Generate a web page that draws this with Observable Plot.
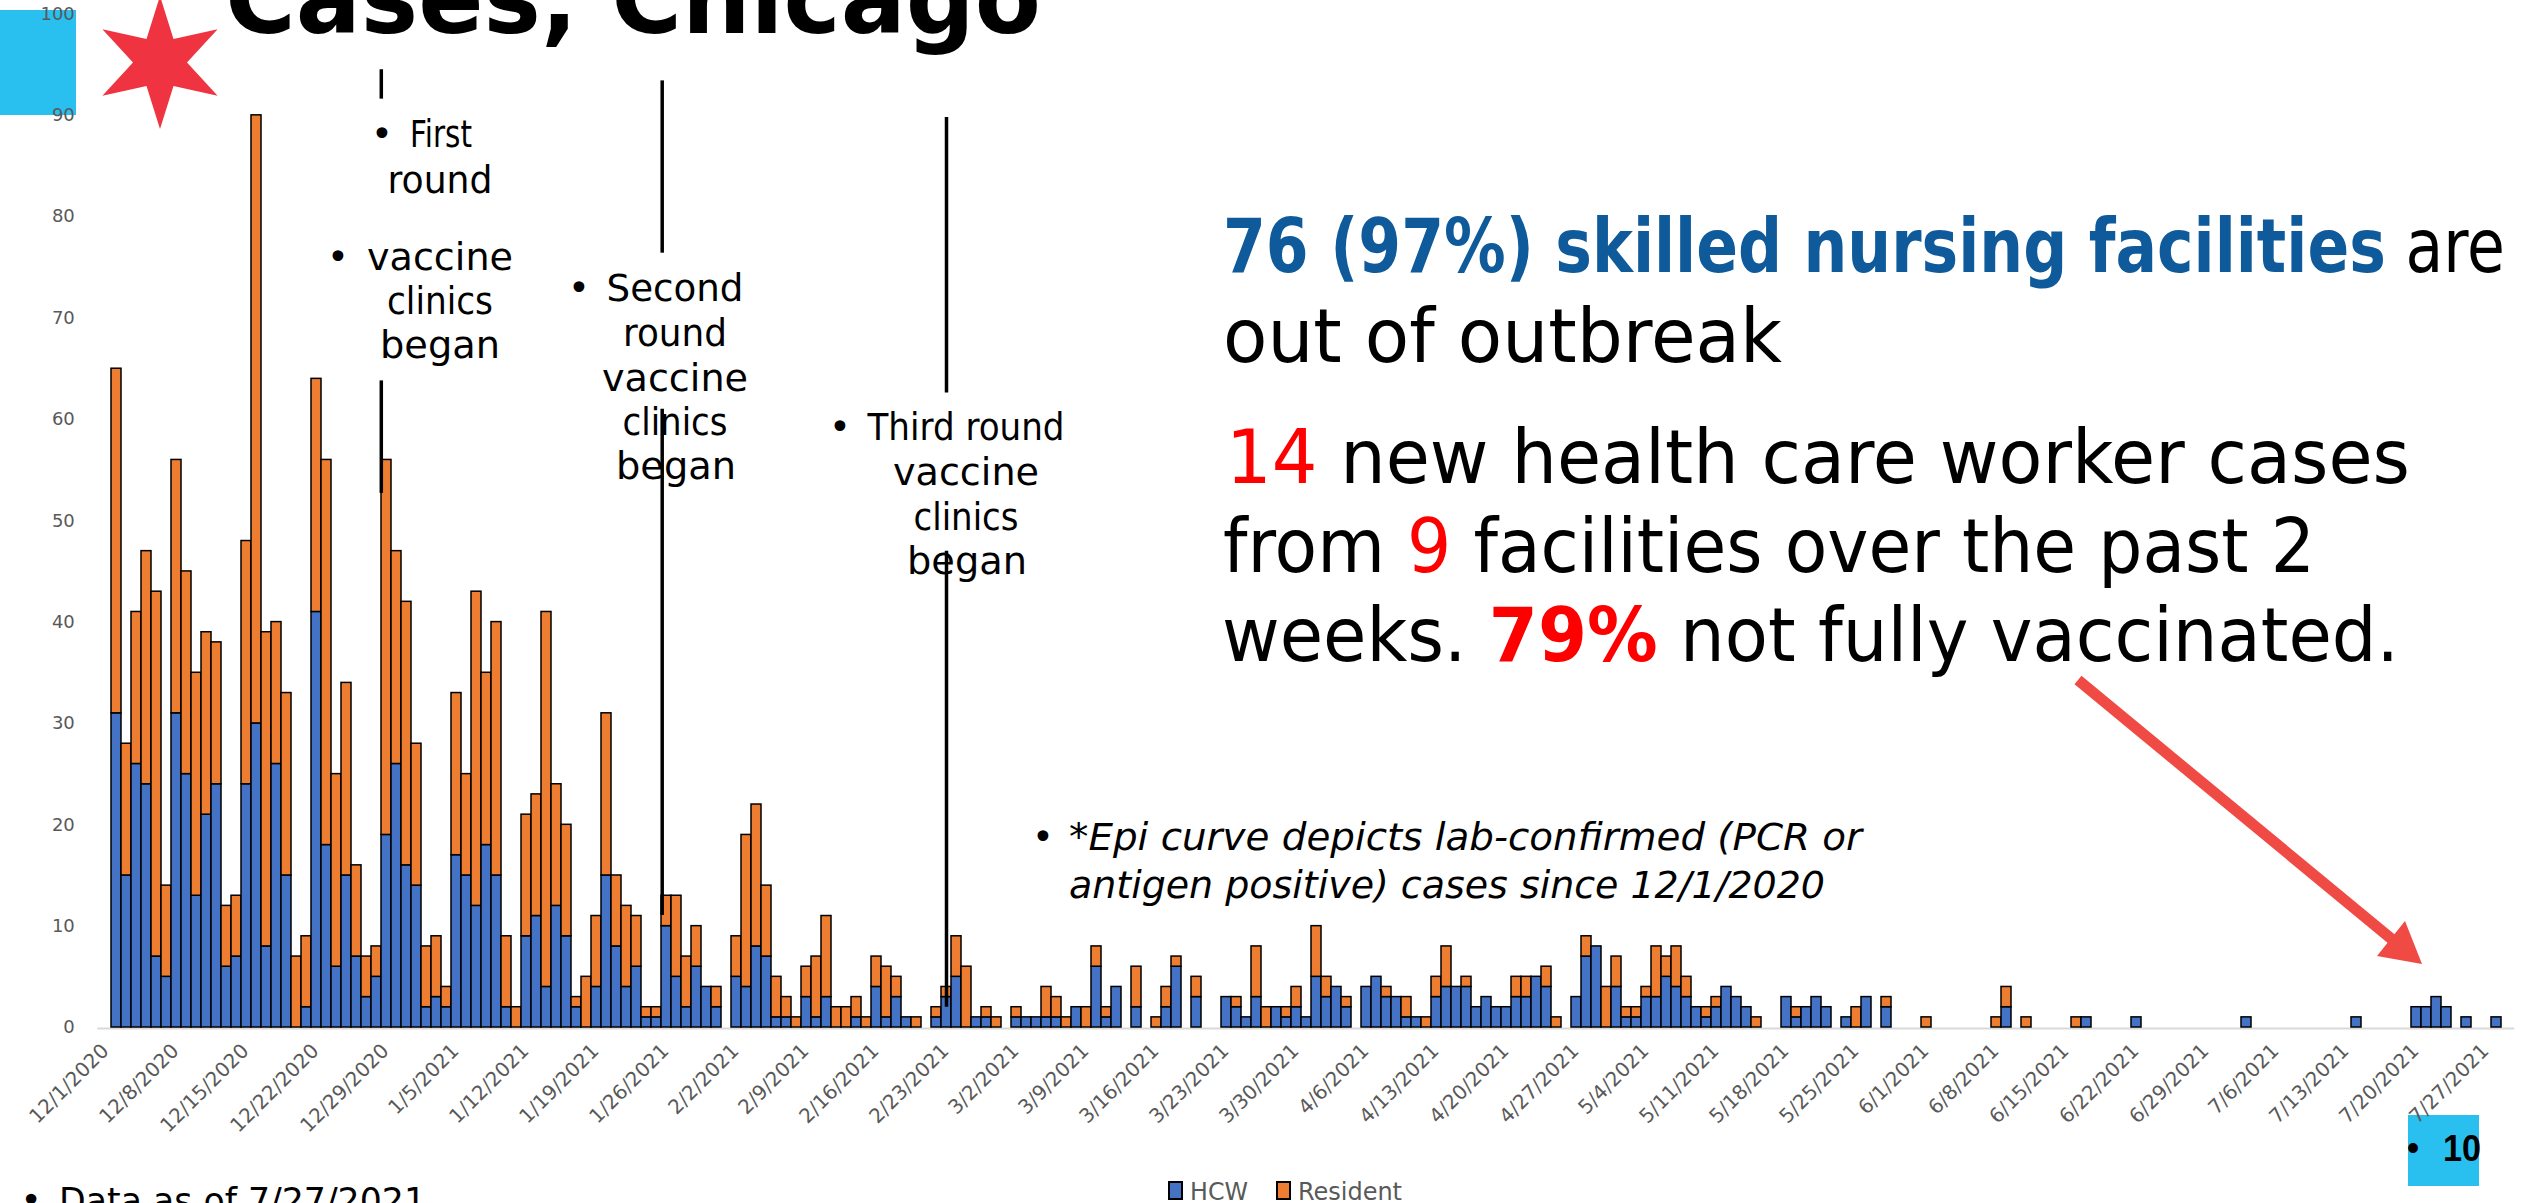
<!DOCTYPE html>
<html>
<head>
<meta charset="utf-8">
<script src="https://cdn.jsdelivr.net/npm/d3@7"></script>
<script src="https://cdn.jsdelivr.net/npm/@observablehq/plot@0.6"></script>
<style>
html,body{margin:0;padding:0;background:#fff;}
#page{position:relative;width:2521px;height:1203px;overflow:hidden;background:#fff;}
.abs{position:absolute;left:0;top:0;}
</style>
</head>
<body>
<div id="page">
  <div style="position:absolute;left:0;top:10px;width:76px;height:105px;background:#29BFEF"></div>
  <div style="position:absolute;left:2408px;top:1115px;width:71px;height:71px;background:#29BFEF"></div>
  <div id="chart" class="abs"></div>
  <svg id="overlay" class="abs" width="2521" height="1203" style="overflow:hidden">
    <!-- Chicago star -->
    <polygon fill="#EF3340" points="160,-4 173.5,39.1 217.6,29.25 187,62.5 217.6,95.75 173.5,85.9 160,129 146.5,85.9 102.4,95.75 133,62.5 102.4,29.25 146.5,39.1"/>
    <!-- Title (cut off at the top, as in the slide) -->
    <text x="225" y="33" font-family="DejaVu Sans" font-weight="bold" font-size="100" fill="#000" textLength="816" lengthAdjust="spacingAndGlyphs">Cases, Chicago</text>

    <!-- Annotations -->
    <g font-family="DejaVu Sans" font-size="37" fill="#000" text-anchor="middle">
      <text x="382" y="147">•</text>
      <text x="441" y="147" textLength="62" lengthAdjust="spacingAndGlyphs">First</text>
      <text x="440" y="193" textLength="105" lengthAdjust="spacingAndGlyphs">round</text>
      <text x="338" y="270">•</text>
      <text x="440" y="270" textLength="146" lengthAdjust="spacingAndGlyphs">vaccine</text>
      <text x="440" y="314" textLength="106" lengthAdjust="spacingAndGlyphs">clinics</text>
      <text x="440" y="358" textLength="120" lengthAdjust="spacingAndGlyphs">began</text>

      <text x="579" y="301">•</text>
      <text x="675" y="301" textLength="137" lengthAdjust="spacingAndGlyphs">Second</text>
      <text x="675" y="346" textLength="104" lengthAdjust="spacingAndGlyphs">round</text>
      <text x="675" y="391" textLength="146" lengthAdjust="spacingAndGlyphs">vaccine</text>
      <text x="675" y="435" textLength="105" lengthAdjust="spacingAndGlyphs">clinics</text>
      <text x="676" y="479" textLength="120" lengthAdjust="spacingAndGlyphs">began</text>

      <text x="840" y="440">•</text>
      <text x="966" y="440" textLength="197" lengthAdjust="spacingAndGlyphs">Third round</text>
      <text x="966" y="485" textLength="146" lengthAdjust="spacingAndGlyphs">vaccine</text>
      <text x="966" y="530" textLength="105" lengthAdjust="spacingAndGlyphs">clinics</text>
      <text x="967" y="574" textLength="120" lengthAdjust="spacingAndGlyphs">began</text>
    </g>
    <g font-family="DejaVu Sans" font-size="37" fill="#000" font-style="italic">
      <text x="1043" y="850" text-anchor="middle" font-style="normal">•</text>
      <text x="1069" y="850" textLength="793" lengthAdjust="spacingAndGlyphs">*Epi curve depicts lab-confirmed (PCR or</text>
      <text x="1069" y="898" textLength="756" lengthAdjust="spacingAndGlyphs">antigen positive) cases since 12/1/2020</text>
    </g>

    <!-- Right-hand summary text -->
    <g font-family="DejaVu Sans" font-size="74" fill="#000">
      <text x="1223" y="272" textLength="1282" lengthAdjust="spacingAndGlyphs"><tspan font-weight="bold" fill="#0F5A9A">76 (97%) skilled nursing facilities</tspan> are</text>
      <text x="1223" y="362" textLength="559" lengthAdjust="spacingAndGlyphs">out of outbreak</text>
      <text x="1226" y="483" textLength="1184" lengthAdjust="spacingAndGlyphs"><tspan fill="#FF0000">14</tspan> new health care worker cases</text>
      <text x="1223" y="572" textLength="1092" lengthAdjust="spacingAndGlyphs">from <tspan fill="#FF0000">9</tspan> facilities over the past 2</text>
      <text x="1222" y="661" textLength="1177" lengthAdjust="spacingAndGlyphs">weeks. <tspan font-weight="bold" fill="#FF0000">79%</tspan> not fully vaccinated.</text>
    </g>

    <!-- Red arrow -->
    <line x1="2078" y1="680" x2="2394" y2="941" stroke="#EF4A43" stroke-width="11"/>
    <polygon fill="#EF4A43" points="2422,964 2377,956 2405,921"/>

    <!-- Footer -->
    <g font-family="DejaVu Sans" font-size="36" fill="#000">
      <text x="31" y="1212" text-anchor="middle">•</text>
      <text x="59" y="1213" textLength="367" lengthAdjust="spacingAndGlyphs">Data as of 7/27/2021</text>
    </g>
    <g id="legend"></g>
    <g font-family="Liberation Sans, Arial, sans-serif" font-size="36" fill="#000">
      <text x="2413" y="1160" text-anchor="middle">•</text>
      <text x="2443" y="1161" font-weight="bold" textLength="38" lengthAdjust="spacingAndGlyphs">10</text>
    </g>
  </svg>
</div>
<script>
// ---------- data ----------
const firstDay = "2020-12-01";
const dayAfterLast = "2021-07-28";
const seriesNames = ["HCW", "Resident"];
const seriesColors = ["#4472C4", "#ED7D31"];

// daily lab-confirmed cases, 12/1/2020 .. 7/27/2021
const hcw = [
  31,15,26,24,7,5,31,25,13,21,
  24,6,7,24,30,8,26,15,0,2,
  41,18,6,15,7,3,5,19,26,16,
  14,2,3,2,17,15,12,18,15,2,
  0,9,11,4,12,9,2,0,4,15,
  8,4,6,1,1,10,5,2,6,4,
  2,0,5,4,8,7,1,1,0,3,
  1,3,0,0,1,0,4,1,3,1,
  0,0,1,3,5,0,1,1,0,0,
  1,1,1,1,1,0,2,0,6,1,
  4,0,2,0,0,2,6,0,3,0,
  0,3,2,1,3,0,2,1,2,1,
  5,3,4,2,0,4,5,3,3,1,
  1,0,3,4,4,4,2,3,2,2,
  3,3,5,4,0,0,3,7,8,0,
  4,1,1,3,3,5,4,3,2,1,
  2,4,3,2,0,0,0,3,1,2,
  3,2,0,1,0,3,0,2,0,0,
  0,0,0,0,0,0,0,0,0,2,
  0,0,0,0,0,0,0,1,0,0,
  0,0,1,0,0,0,0,0,0,0,
  0,0,0,1,0,0,0,0,0,0,
  0,0,0,0,1,0,0,0,0,0,
  2,2,3,2,0,1,0,0,1
];
const resident = [
  34,13,15,23,36,9,25,20,22,18,
  14,6,6,24,60,31,14,18,7,7,
  23,38,19,19,9,4,3,37,21,26,
  14,6,6,2,16,10,31,17,25,7,
  2,12,12,37,12,11,1,5,7,16,
  7,8,5,1,1,3,8,5,4,0,
  2,0,4,15,14,7,4,2,1,3,
  6,8,2,2,2,1,3,5,2,0,
  1,0,1,1,4,6,0,1,1,0,
  1,0,0,3,2,1,0,2,2,1,
  0,0,4,0,1,2,1,0,2,0,
  0,0,1,0,5,2,0,1,2,0,
  5,2,0,1,0,0,0,1,0,2,
  0,1,2,4,0,1,0,0,0,0,
  2,2,0,2,1,0,0,2,0,4,
  3,1,1,1,5,2,4,2,0,1,
  1,0,0,0,1,0,0,0,1,0,
  0,0,0,0,2,0,0,1,0,0,
  0,1,0,0,0,0,0,0,1,2,
  0,1,0,0,0,0,1,0,0,0,
  0,0,0,0,0,0,0,0,0,0,
  0,0,0,0,0,0,0,0,0,0,
  0,0,0,0,0,0,0,0,0,0,
  0,0,0,0,0,0,0,0,0
];
const yTicks = [0,10,20,30,40,50,60,70,80,90,100];
const xTickLabels = [
  "12/1/2020","12/8/2020","12/15/2020","12/22/2020","12/29/2020",
  "1/5/2021","1/12/2021","1/19/2021","1/26/2021",
  "2/2/2021","2/9/2021","2/16/2021","2/23/2021",
  "3/2/2021","3/9/2021","3/16/2021","3/23/2021","3/30/2021",
  "4/6/2021","4/13/2021","4/20/2021","4/27/2021",
  "5/4/2021","5/11/2021","5/18/2021","5/25/2021",
  "6/1/2021","6/8/2021","6/15/2021","6/22/2021","6/29/2021",
  "7/6/2021","7/13/2021","7/20/2021","7/27/2021"
];
// vaccine clinic rounds (annotation lines)
const roundDays = ["12/28/2020", "1/25/2021", "2/22/2021"];
const roundSegTop = [[94.5, 63.8], [93.4, 61.0], [89.8, 47.0]];
const roundSegBottom = [[91.6, 52.7], [76.4, 11.05], [62.6, 2.0]];

// ---------- build ----------
const fmt = d => `${d.getUTCMonth() + 1}/${d.getUTCDate()}/${d.getUTCFullYear()}`;
const days = d3.utcDay.range(new Date(firstDay), new Date(dayAfterLast)).map(fmt);
const rows = [];
days.forEach((day, i) => {
  rows.push({day, series: seriesNames[0], cases: hcw[i]});
  rows.push({day, series: seriesNames[1], cases: resident[i]});
});
const nonzero = rows.filter(d => d.cases > 0);

const roundShift = [-5.2, -4.3, 0];
const roundMarks = roundDays.map((day, k) => {
  const segs = roundSegTop[k].map((t, j) => ({day, top: t, bottom: roundSegBottom[k][j]}));
  return Plot.ruleX(segs, {x: "day", y1: "top", y2: "bottom", dx: roundShift[k], stroke: "#000", strokeWidth: 3.5});
});

const chart = Plot.plot({
  width: 2521,
  height: 1203,
  marginLeft: 97.3,
  marginRight: 6.7,
  marginTop: 13.5,
  marginBottom: 176,
  style: {background: "transparent", fontFamily: "DejaVu Sans", overflow: "visible"},
  x: {type: "band", domain: days, padding: 0, label: null},
  y: {domain: [0, 100], label: null},
  color: {domain: seriesNames, range: seriesColors},
  marks: [
    Plot.ruleY([0], {stroke: "#D9D9D9", strokeWidth: 2, dy: 1}),
    Plot.barY(nonzero, {x: "day", y: "cases", fill: "series", stroke: "#000", strokeWidth: 1.5}),
    ...roundMarks,
    Plot.axisY({ticks: yTicks, label: null, tickSize: 0, tickPadding: 23, fontSize: 18, fill: "#595959"}),
    Plot.axisX({ticks: xTickLabels, label: null, tickSize: 0, tickRotate: -45, tickPadding: 20, dx: -11,
      textAnchor: "end", lineAnchor: "middle", fontSize: 20, fill: "#595959"})
  ]
});
document.getElementById("chart").appendChild(chart);

// legend from the series arrays
const legendX = [1169, 1277];
const legendTextLen = [58, 104];
const lg = d3.select("#legend");
seriesNames.forEach((name, i) => {
  lg.append("rect").attr("x", legendX[i]).attr("y", 1182).attr("width", 13).attr("height", 17)
    .attr("fill", seriesColors[i]).attr("stroke", "#000").attr("stroke-width", 2);
  lg.append("text").attr("x", legendX[i] + 21).attr("y", 1200)
    .attr("font-family", "Liberation Sans Narrow, DejaVu Sans Condensed, sans-serif")
    .attr("font-size", 24).attr("fill", "#595959")
    .attr("textLength", legendTextLen[i]).attr("lengthAdjust", "spacingAndGlyphs")
    .text(name);
});
</script>
</body>
</html>
